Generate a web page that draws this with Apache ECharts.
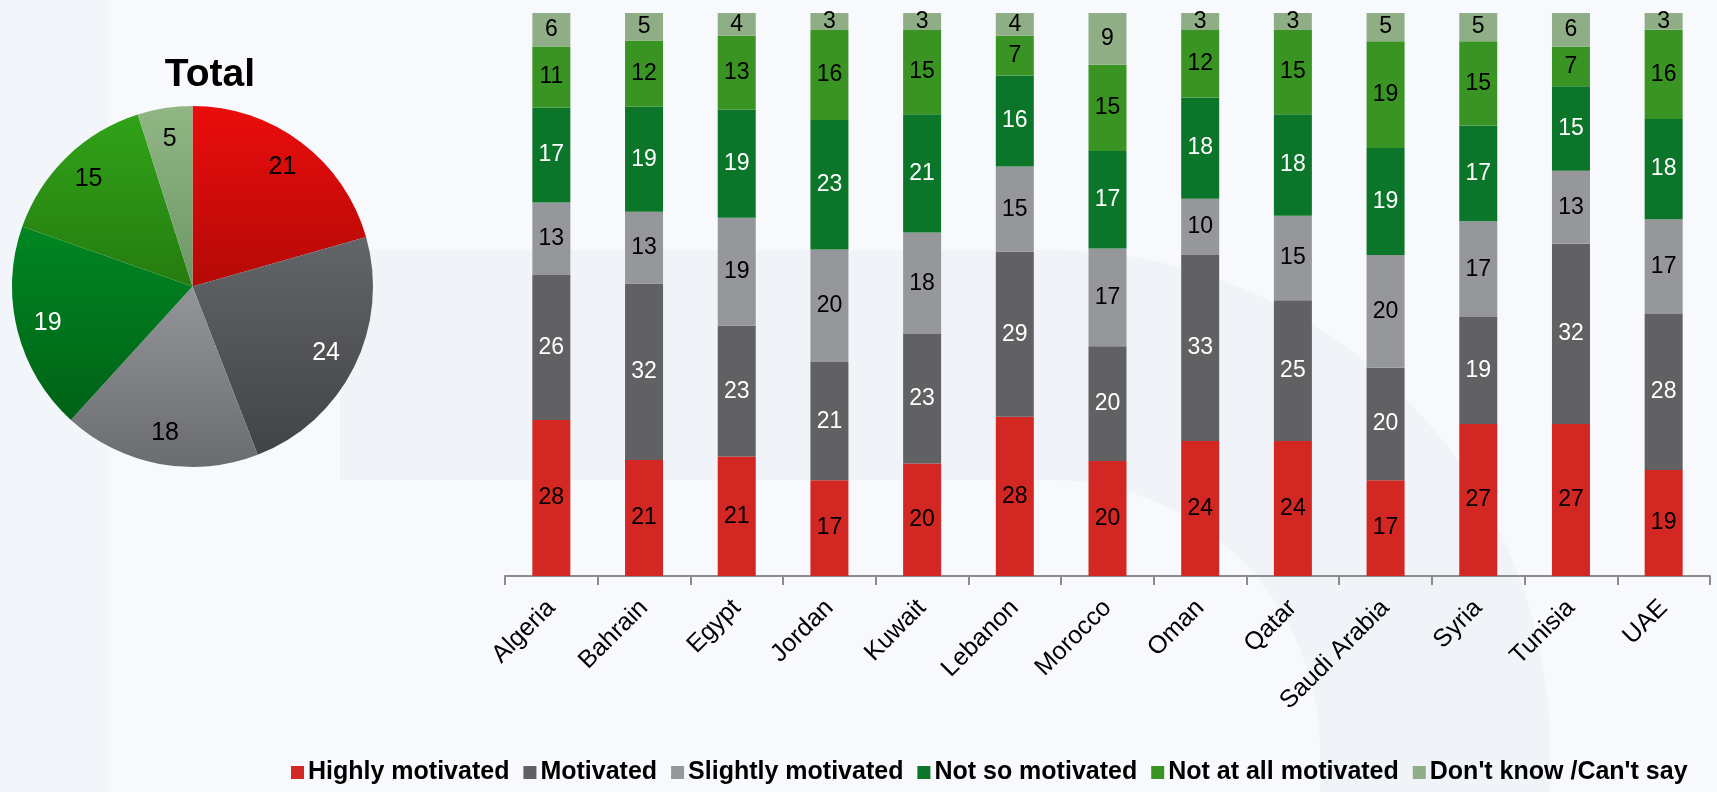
<!DOCTYPE html>
<html>
<head>
<meta charset="utf-8">
<script src="https://cdn.jsdelivr.net/npm/echarts@6/dist/echarts.min.js"></script>
<style>
  html, body { margin: 0; padding: 0; background: #f8f9fc; }
  #chart { width: 1717px; height: 792px; }
</style>
</head>
<body>
<div id="chart"></div>
<script>
// Categories and survey answers (per cent of respondents)
const countries = ['Algeria', 'Bahrain', 'Egypt', 'Jordan', 'Kuwait', 'Lebanon', 'Morocco',
  'Oman', 'Qatar', 'Saudi Arabia', 'Syria', 'Tunisia', 'UAE'];
const answerNames = ['Highly motivated', 'Motivated', 'Slightly motivated',
  'Not so motivated', 'Not at all motivated', "Don't know /Can't say"];

const highlyMotivated   = [28, 21, 21, 17, 20, 28, 20, 24, 24, 17, 27, 27, 19];
const motivated         = [26, 32, 23, 21, 23, 29, 20, 33, 25, 20, 19, 32, 28];
const slightlyMotivated = [13, 13, 19, 20, 18, 15, 17, 10, 15, 20, 17, 13, 17];
const notSoMotivated    = [17, 19, 19, 23, 21, 16, 17, 18, 18, 19, 17, 15, 18];
const notAtAllMotivated = [11, 12, 13, 16, 15,  7, 15, 12, 15, 19, 15,  7, 16];
const dontKnow          = [ 6,  5,  4,  3,  3,  4,  9,  3,  3,  5,  5,  6,  3];

// Overall totals shown in the pie
const totalValues = [21, 24, 18, 19, 15, 5];

const FONT = '"Liberation Sans", Arial, sans-serif';
const barColors = ['#d22722', '#616163', '#96979a', '#0b7629', '#3a9424', '#8fae86'];
const labelColors = ['#000', '#fff', '#000', '#fff', '#000', '#000'];
const pieGradients = [
  ['#ea0d0c', '#b40a07'],
  ['#646568', '#424345'],
  ['#949598', '#6b6c6f'],
  ['#008622', '#006217'],
  ['#31a219', '#257c0f'],
  ['#90b683', '#6e9767']
];

const answerSeries = [highlyMotivated, motivated, slightlyMotivated,
  notSoMotivated, notAtAllMotivated, dontKnow];

// 100% stacked: each column is scaled to its own total
const columnTotals = countries.map((_, i) =>
  answerSeries.reduce((s, arr) => s + arr[i], 0));

const barSeries = answerSeries.map((arr, k) => ({
  type: 'bar',
  name: answerNames[k],
  stack: 'share',
  barWidth: 38,
  itemStyle: { color: barColors[k] },
  label: {
    show: true,
    position: 'inside',
    color: labelColors[k],
    fontFamily: FONT,
    fontSize: 23,
    formatter: p => String(arr[p.dataIndex])
  },
  emphasis: { disabled: true },
  data: arr.map((v, i) => v / columnTotals[i] * 100)
}));

const PIE_CENTER = [192.5, 286.5];
const PIE_R = 180.5;

const pieData = totalValues.map((v, k) => ({
  name: answerNames[k],
  value: v,
  itemStyle: {
    color: new echarts.graphic.LinearGradient(0, 0, 0, 1, [
      { offset: 0, color: pieGradients[k][0] },
      { offset: 1, color: pieGradients[k][1] }
    ])
  }
}));

// faint watermark shapes in the page background
const WATERMARK = '#f0f3f8';
const backdrop = [
  { type: 'rect', z: -10, silent: true,
    shape: { x: 0, y: 0, width: 108, height: 792 }, style: { fill: '#f2f5f9' } },
  { type: 'rect', z: -10, silent: true,
    shape: { x: 340, y: 250, width: 711, height: 230 }, style: { fill: WATERMARK } },
  { type: 'sector', z: -10, silent: true,
    shape: { cx: 1050, cy: 750, r0: 270, r: 500, startAngle: -Math.PI / 2, endAngle: 0, clockwise: true },
    style: { fill: WATERMARK } },
  { type: 'rect', z: -10, silent: true,
    shape: { x: 1320, y: 749, width: 230, height: 43 }, style: { fill: WATERMARK } }
];

const chart = echarts.init(document.getElementById('chart'), null, { renderer: 'canvas' });

chart.setOption({
  backgroundColor: '#f8f9fc',
  animation: false,
  textStyle: { fontFamily: FONT },
  graphic: backdrop,
  title: {
    text: 'Total',
    left: 205,
    top: 51,
    textAlign: 'center',
    textStyle: { fontFamily: FONT, fontSize: 39, fontWeight: 'bold', color: '#000' }
  },
  legend: {
    data: answerNames,
    left: 286,
    top: 755,
    itemWidth: 13,
    itemHeight: 13,
    itemGap: 14,
    icon: 'rect',
    textStyle: { fontFamily: FONT, fontSize: 25, fontWeight: 'bold', color: '#000', padding: [0, 0, 0, -1] },
    selectedMode: false
  },
  grid: { left: 505, right: 7, top: 13, bottom: 216, containLabel: false },
  xAxis: {
    type: 'category',
    data: countries,
    axisLine: { lineStyle: { color: '#8c8c8c', width: 2 } },
    axisTick: { show: true, length: 9, lineStyle: { color: '#8c8c8c', width: 2 } },
    axisLabel: {
      rotate: 45,
      margin: 28,
      interval: 0,
      fontFamily: FONT,
      fontSize: 25,
      color: '#000'
    }
  },
  yAxis: {
    type: 'value',
    min: 0,
    max: 100,
    show: false,
    splitLine: { show: false }
  },
  series: [
    ...barSeries,
    {
      type: 'pie',
      name: 'Total',
      center: PIE_CENTER,
      radius: [0, PIE_R],
      startAngle: 90,
      clockwise: true,
      label: { show: false },
      labelLine: { show: false },
      emphasis: { disabled: true },
      data: pieData
    },
    {
      // label ring drawn over the pie so the values sit near the rim
      type: 'pie',
      name: 'Total labels',
      center: PIE_CENTER,
      radius: [112, PIE_R],
      startAngle: 90,
      clockwise: true,
      silent: true,
      itemStyle: { color: 'rgba(0,0,0,0)' },
      label: {
        show: true,
        position: 'inside',
        fontFamily: FONT,
        fontSize: 25,
        formatter: p => String(p.value),
        color: '#000'
      },
      labelLine: { show: false },
      emphasis: { disabled: true },
      data: totalValues.map((v, k) => ({
        name: answerNames[k] + ' ',
        value: v,
        label: { color: labelColors[k] }
      }))
    }
  ]
});
</script>
</body>
</html>
